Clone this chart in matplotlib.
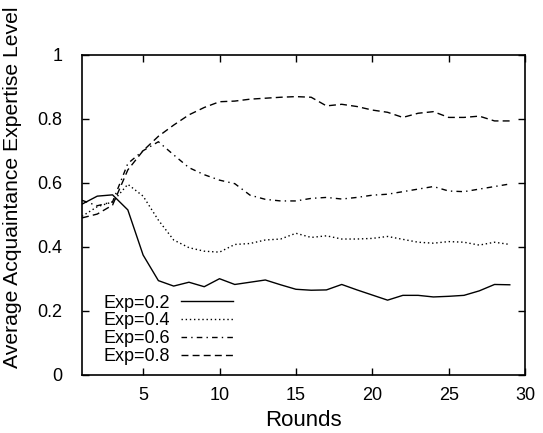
"""Average acquaintance expertise level per round, four expertise settings."""

import matplotlib
matplotlib.use("Agg")
import matplotlib.pyplot as plt

plt.rcParams["font.family"] = ["Liberation Sans", "DejaVu Sans"]

rounds = list(range(1, 30))

exp_02 = [0.533, 0.558, 0.562, 0.515, 0.374, 0.294, 0.277, 0.289, 0.275, 0.300,
          0.282, 0.289, 0.296, 0.281, 0.267, 0.264, 0.265, 0.282, 0.265, 0.249,
          0.233, 0.248, 0.248, 0.243, 0.245, 0.248, 0.262, 0.282, 0.281]
exp_04 = [0.495, 0.525, 0.540, 0.595, 0.558, 0.483, 0.421, 0.397, 0.386, 0.383,
          0.407, 0.410, 0.421, 0.424, 0.442, 0.429, 0.434, 0.424, 0.424, 0.426,
          0.432, 0.423, 0.414, 0.411, 0.416, 0.414, 0.405, 0.414, 0.407]
exp_06 = [0.545, 0.528, 0.540, 0.660, 0.700, 0.728, 0.687, 0.647, 0.625, 0.608,
          0.597, 0.561, 0.548, 0.543, 0.543, 0.551, 0.554, 0.549, 0.554, 0.561,
          0.564, 0.572, 0.580, 0.588, 0.574, 0.572, 0.580, 0.588, 0.596]
exp_08 = [0.490, 0.502, 0.530, 0.640, 0.700, 0.745, 0.780, 0.812, 0.835, 0.853,
          0.855, 0.861, 0.864, 0.867, 0.869, 0.867, 0.840, 0.845, 0.838, 0.827,
          0.820, 0.804, 0.817, 0.822, 0.804, 0.804, 0.808, 0.793, 0.793]

labels = ["Exp=0.2", "Exp=0.4", "Exp=0.6", "Exp=0.8"]
styles = ["-", (0, (1, 2)), (0, (4, 3, 1, 3)), (0, (5, 3))]

fig = plt.figure(figsize=(5.43, 4.33), dpi=100)
ax = fig.add_axes([0.151, 0.1346, 0.816, 0.7391])

for series, lab, ls in zip([exp_02, exp_04, exp_06, exp_08], labels, styles):
    ax.plot(rounds, series, color="black", linestyle=ls, linewidth=1.0, label=lab)

ax.set_xlim(1, 30)
ax.set_ylim(0, 1)
ax.set_xticks([5, 10, 15, 20, 25, 30])
ax.set_yticks([0, 0.2, 0.4, 0.6, 0.8, 1])
ax.set_yticklabels(["0", "0.2", "0.4", "0.6", "0.8", "1"])
ax.tick_params(direction="in", top=True, right=True, length=5, width=1,
               labelsize=13)
ax.tick_params(axis="y", pad=14)
ax.tick_params(axis="x", pad=9)
for sp in ax.spines.values():
    sp.set_linewidth(1.2)

ax.set_xlabel("Rounds", fontsize=16, labelpad=4)
ax.set_ylabel("Average Acquaintance Expertise Level", fontsize=15.2)
ax.yaxis.set_label_coords(-0.135, 0.585)

ax.legend(loc="lower left", bbox_to_anchor=(0.02, -0.01), frameon=False,
          markerfirst=False, fontsize=13, handlelength=2.9, labelspacing=0.05,
          handletextpad=0.6, borderaxespad=0.3)

plt.savefig("out.png", dpi=100)
plt.close()
